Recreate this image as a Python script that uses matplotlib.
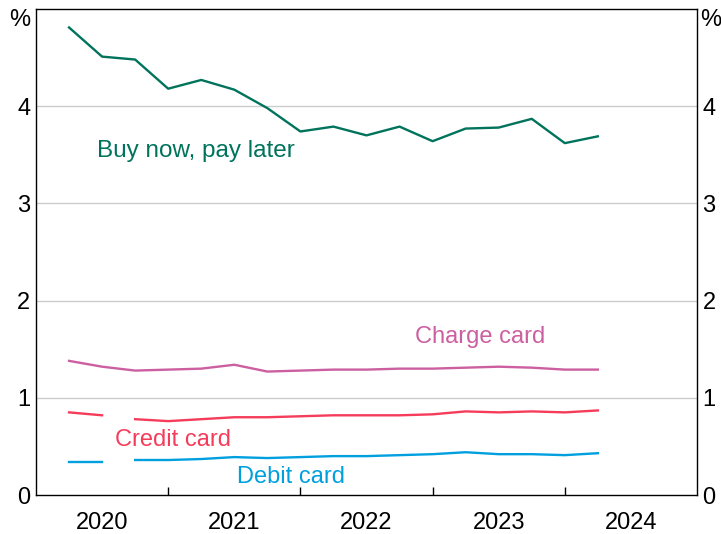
import numpy as np
import matplotlib.pyplot as plt

# quarterly observations, Mar 2020 to Mar 2024 (quarter-end)
quarters = np.arange(2020.25, 2024.26, 0.25)
bnpl = [4.81, 4.51, 4.48, 4.18, 4.27, 4.17, 3.98, 3.74, 3.79, 3.70,
        3.79, 3.64, 3.77, 3.78, 3.87, 3.62, 3.69]
charge = [1.38, 1.32, 1.28, 1.29, 1.30, 1.34, 1.27, 1.28, 1.29, 1.29,
          1.30, 1.30, 1.31, 1.32, 1.31, 1.29, 1.29]
credit = [0.85, 0.82, 0.78, 0.76, 0.78, 0.80, 0.80, 0.81, 0.82, 0.82,
          0.82, 0.83, 0.86, 0.85, 0.86, 0.85, 0.87]
debit = [0.34, 0.34, 0.36, 0.36, 0.37, 0.39, 0.38, 0.39, 0.40, 0.40,
         0.41, 0.42, 0.44, 0.42, 0.42, 0.41, 0.43]
series_break = 2  # credit and debit series break after Jun 2020

years = [2020, 2021, 2022, 2023, 2024]
yticks = [0, 1, 2, 3, 4]

c_bnpl = '#00735C'
c_charge = '#CC5FA0'
c_credit = '#F53C5A'
c_debit = '#00A0DF'

plt.rcParams['font.family'] = ['Liberation Sans', 'DejaVu Sans']
fs = 17

fig = plt.figure(figsize=(7.21, 5.34), dpi=100)
ax = fig.add_axes([36 / 721, 39 / 534, 661 / 721, 486 / 534])

lw = 1.7
ax.plot(quarters, bnpl, color=c_bnpl, lw=lw, zorder=3)
ax.plot(quarters, charge, color=c_charge, lw=lw, zorder=3)
for vals, col in [(credit, c_credit), (debit, c_debit)]:
    ax.plot(quarters[:series_break], vals[:series_break], color=col, lw=lw, zorder=3)
    ax.plot(quarters[series_break:], vals[series_break:], color=col, lw=lw, zorder=3)

ax.text(2020.46, 3.54, 'Buy now, pay later', color=c_bnpl, fontsize=fs + 0.5,
        ha='left', va='center')
ax.text(2023.36, 1.63, 'Charge card', color=c_charge, fontsize=fs,
        ha='center', va='center')
ax.text(2021.04, 0.57, 'Credit card', color=c_credit, fontsize=fs,
        ha='center', va='center')
ax.text(2021.93, 0.19, 'Debit card', color=c_debit, fontsize=fs,
        ha='center', va='center')

ax.set_xlim(2020, 2025)
ax.set_ylim(0, 5)

# year boundaries as small inward ticks, labels centred on each year
ax.set_xticks([2021, 2022, 2023, 2024])
ax.set_xticklabels([])
ax.set_xticks([y + 0.5 for y in years], minor=True)
ax.tick_params(axis='x', which='major', direction='in', length=6, width=1)
ax.set_xticklabels([str(y) for y in years], minor=True)
ax.tick_params(axis='x', which='minor', length=0, labelsize=fs, pad=12)

ax.set_yticks(yticks)
ax.set_yticklabels([str(v) for v in yticks])
ax.tick_params(axis='y', length=0, labelsize=fs, pad=4,
               left=True, right=True, labelleft=True, labelright=True)

for v in yticks[1:]:
    ax.axhline(v, color='#CCCCCC', lw=1, zorder=1)

for s in ax.spines.values():
    s.set_linewidth(1)

fig.text(20 / 721, 1 - 20 / 534, '%', fontsize=fs, ha='center', va='center')
fig.text(711 / 721, 1 - 20 / 534, '%', fontsize=fs, ha='center', va='center')

fig.savefig('out.png', dpi=100)
